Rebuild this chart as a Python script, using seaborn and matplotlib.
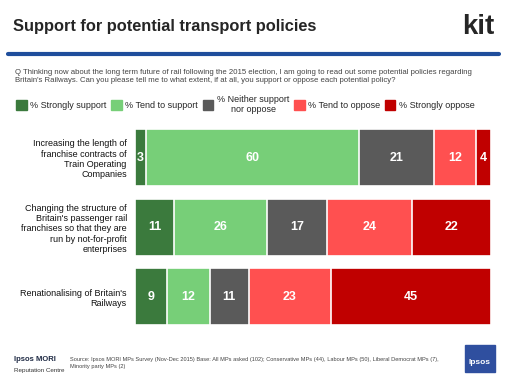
import matplotlib
matplotlib.use("Agg")
import matplotlib.pyplot as plt
import matplotlib.patches as mpatches
import seaborn as sns
import pandas as pd
import numpy as np

# data
policies = [
    "Increasing the length of\nfranchise contracts of\nTrain Operating\nCompanies",
    "Changing the structure of\nBritain's passenger rail\nfranchises so that they are\nrun by not-for-profit\nenterprises",
    "Renationalising of Britain's\nRailways",
]
responses = ["% Strongly support", "% Tend to support", "% Neither support\nnor oppose",
             "% Tend to oppose", "% Strongly oppose"]
strongly_support = [3, 11, 9]
tend_support = [60, 26, 12]
neither = [21, 17, 11]
tend_oppose = [12, 24, 23]
strongly_oppose = [4, 22, 45]
colours = ["#3b7a3d", "#77cf78", "#5a5a5a", "#ff5050", "#c00000"]

df = pd.DataFrame({
    "policy": policies,
    responses[0]: strongly_support,
    responses[1]: tend_support,
    responses[2]: neither,
    responses[3]: tend_oppose,
    responses[4]: strongly_oppose,
})
cum = df[responses].cumsum(axis=1)

sns.set_theme(style="white")
plt.rcParams["font.family"] = ["Liberation Sans", "DejaVu Sans"]

fig = plt.figure(figsize=(5.1, 3.83), dpi=100)
ax = fig.add_axes([0.265, 0.151, 0.697, 0.512])

# stacked bars: draw cumulative totals from the back
for resp, col in zip(responses[::-1], colours[::-1]):
    sns.barplot(x=cum[resp], y=df["policy"], order=policies, orient="h",
                color=col, width=0.82, edgecolor="white", linewidth=1.2,
                saturation=1, ax=ax)

for i, row in df.iterrows():
    for resp in responses:
        v = row[resp]
        ax.text(cum.loc[i, resp] - v / 2, i, str(v), ha="center", va="center",
                color="white", fontsize=9, fontweight="bold")

ax.set_xlim(0, 100)
ax.set_ylim(2.41, -0.41)
ax.set_xlabel("")
ax.set_ylabel("")
ax.set_xticks([])
ax.tick_params(axis="y", length=0, labelsize=6.5, pad=6)
for lbl in ax.get_yticklabels():
    lbl.set_color("#111111")
sns.despine(ax=ax, left=True, bottom=True)

# title, rule, logo
fig.text(0.026, 0.93, "Support for potential transport policies", fontsize=11.8,
         fontweight="bold", va="center", ha="left")
fig.text(0.97, 0.93, "kit", fontsize=20, fontweight="bold", va="center", ha="right")
fig.add_artist(plt.Line2D([0.016, 0.978], [0.859, 0.859], color="#1f4e9c", lw=3,
                          solid_capstyle="round"))

fig.text(0.03, 0.8, "Q Thinking now about the long term future of rail following the 2015 election, "
         "I am going to read out some potential policies regarding\nBritain's Railways. "
         "Can you please tell me to what extent, if at all, you support or oppose each potential policy?",
         fontsize=5.6, color="#444444", va="center", ha="left", linespacing=1.3)

# legend
handles = [mpatches.Patch(color=c) for c in colours]
leg = fig.legend(handles, responses, loc="center left", bbox_to_anchor=(0.024, 0.727),
                 ncol=5, frameon=False, fontsize=6.5, handlelength=1.2, handleheight=1.3,
                 handletextpad=0.4, columnspacing=0.48, borderaxespad=0)
for t in leg.get_texts():
    t.set_multialignment("center")

# footer
fig.text(0.027, 0.057, "Ipsos MORI", fontsize=5.5, fontweight="bold", color="#1f2a44")
fig.text(0.027, 0.03, "Reputation Centre", fontsize=4.5, color="#333333")
fig.text(0.137, 0.038, "Source: Ipsos MORI MPs Survey (Nov-Dec 2015) Base: All MPs asked (102); "
         "Conservative MPs (44), Labour MPs (50), Liberal Democrat MPs (7),\nMinority party MPs (2)",
         fontsize=4.05, color="#444444", linespacing=1.5)
fig.patches.append(mpatches.FancyBboxPatch((0.912, 0.03), 0.058, 0.07, boxstyle="square,pad=0",
                                           transform=fig.transFigure, color="#2f4f9f"))
fig.text(0.941, 0.05, "Ipsos", fontsize=6, color="white", ha="center", fontweight="bold")

fig.savefig("out.png", dpi=100)
